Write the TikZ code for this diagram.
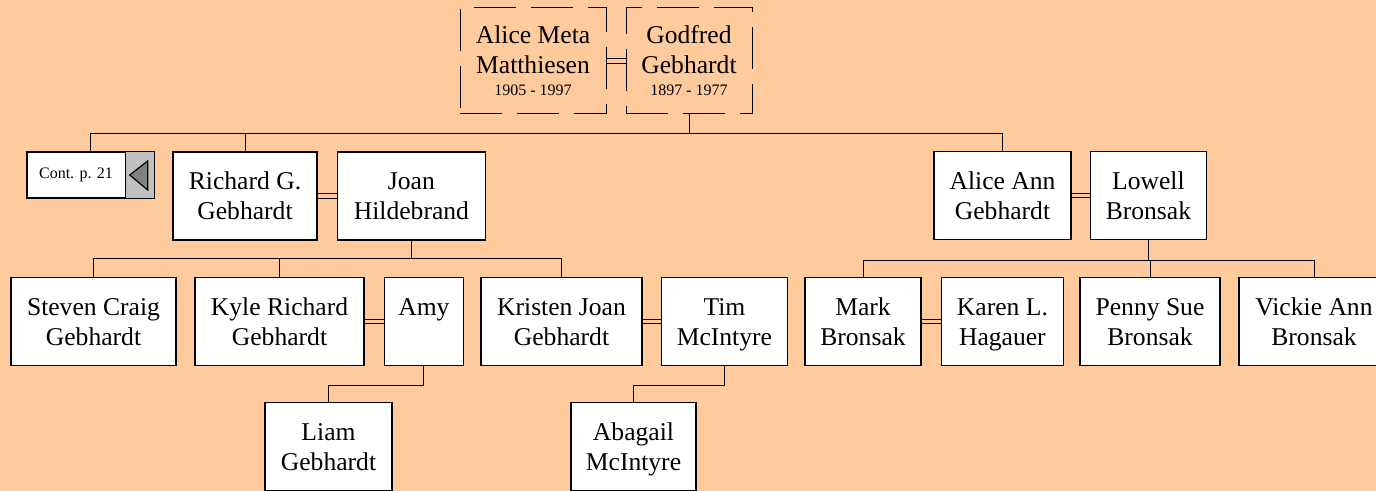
\documentclass[tikz,border=0pt]{standalone}
\usepackage{fontspec}
\setmainfont{Liberation Serif}
\usepackage{tikz}
\usetikzlibrary{positioning}
\definecolor{peach}{RGB}{255,202,156}
\definecolor{lightgrey}{RGB}{192,192,192}
\definecolor{darkgrey}{RGB}{128,128,128}
\newcommand{\datefont}{\fontsize{8}{9}\selectfont}

\begin{document}
\begin{tikzpicture}[x=0.5pt,y=-0.5pt,node distance=9.5pt,
    frame/.style={draw,align=center,inner sep=0pt,font=\fontsize{12.8}{15}\selectfont},
    person/.style={frame,line width=0.7pt,fill=white,minimum height=44pt,
      text height=23.7pt,text depth=0pt},
    ancestor/.style={frame,line width=0.5pt,dash pattern=on 21pt off 7.5pt,minimum height=53pt},
    married/.style={line width=0.5pt,double=peach,double distance=1.6pt},
    kin/.style={line width=0.5pt}]
    \useasboundingbox (0,0) rectangle (1376,491);
    \clip (0,0) rectangle (1376,491);
    \fill[peach] (0,0) rectangle (1376,491);

    \node[ancestor,minimum width=73pt] (alicemeta) at (533,61) {Alice Meta\\Matthiesen\\[-4pt]{\datefont 1905 - 1997}};
    \node[ancestor,minimum width=63pt] (godfred) [right = of alicemeta] {Godfred\\Gebhardt\\[-4pt]{\datefont 1897 - 1977}};

    \node[person,minimum width=63.5pt,minimum height=23pt,text height=0pt] (cont) at (90.5,175) {};
    \node[font=\datefont] (contlabel) at (76,175) {Cont. p. 21};
    \draw[fill=lightgrey,line width=0.7pt] ([xshift=-14.5pt]cont.north east) rectangle (cont.south east);
    \draw[fill=darkgrey,line width=0.6pt] ([xshift=-12.5pt]cont.east) -- ([xshift=-3.5pt,yshift=7pt]cont.east)
      -- ([xshift=-3.5pt,yshift=-7.5pt]cont.east) -- cycle;
    \node[person,minimum width=72pt] (richard) at (245,196) {Richard G.\\Gebhardt};
    \node[person,minimum width=74pt] (joan) [right = of richard] {Joan\\Hildebrand};
    \node[person,minimum width=68.5pt] (aliceann) at (1002.5,195.5) {Alice Ann\\Gebhardt};
    \node[person,minimum width=58pt] (lowell) [right = 9pt of aliceann] {Lowell\\Bronsak};

    \node[person,minimum width=82.5pt] (steven) at (93.5,321.5) {Steven Craig\\Gebhardt};
    \node[person,minimum width=84.5pt] (kyle) at (279.5,321.5) {Kyle Richard\\Gebhardt};
    \node[person,minimum width=39.5pt] (amy) [right = of kyle] {Amy\\~};
    \node[person,minimum width=80.5pt] (kristen) at (561.5,321.5) {Kristen Joan\\Gebhardt};
    \node[person,minimum width=63pt] (tim) [right = 9pt of kristen] {Tim\\McIntyre};
    \node[person,minimum width=58pt] (mark) at (863,321.5) {Mark\\Bronsak};
    \node[person,minimum width=61pt] (karen) [right = of mark] {Karen L.\\Hagauer};
    \node[person,minimum width=70pt] (penny) at (1150,321.5) {Penny Sue\\Bronsak};
    \node[person,minimum width=75pt] (vickie) at (1314,321.5) {Vickie Ann\\Bronsak};

    \node[person,minimum width=63.5pt] (liam) at (328.5,446.5) {Liam\\Gebhardt};
    \node[person,minimum width=62.5pt] (abagail) at (633.5,446.5) {Abagail\\McIntyre};

    \draw[married] (alicemeta) -- (godfred);
    \draw[married] (richard) -- (joan);
    \draw[married] (aliceann) -- (lowell);
    \draw[married] (kyle) -- (amy);
    \draw[married] (kristen) -- (tim);
    \draw[married] (mark) -- (karen);

    \foreach \c in {cont,richard,aliceann}
      \draw[kin] (godfred.south) -- ++(0,19) -| (\c.north);
    \foreach \c in {steven,kyle,kristen}
      \draw[kin] (joan.south) -- ++(0,18) -| (\c.north);
    \foreach \c in {mark,penny,vickie}
      \draw[kin] (lowell.south) -- ++(0,20) -| (\c.north);
    \draw[kin] (amy.south) -- ++(0,19) -| (liam.north);
    \draw[kin] (tim.south) -- ++(0,19) -| (abagail.north);
  \end{tikzpicture}
\end{document}
